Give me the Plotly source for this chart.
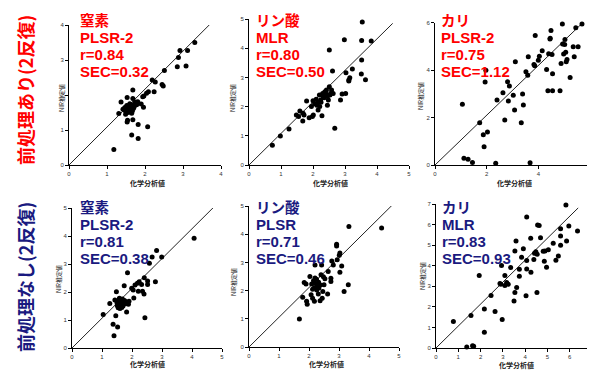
import plotly.graph_objects as go

# page body has an 8px margin: the figure is drawn 8px right/down of the window origin
OFF = 8
W, H = 595 - OFF, 376 - OFF

# ---------------- data ----------------
# 前処理あり - 窒素
n1_x = [1.18, 1.65, 1.82, 2.07, 1.82, 1.53, 1.54, 1.68, 1.31, 1.49, 1.65, 1.96, 1.47, 1.42,
        1.37, 1.53, 1.68, 1.74, 1.68, 1.81, 1.90, 1.94, 1.97, 2.04, 2.09, 2.24, 2.19, 2.27,
        2.45, 2.48, 2.51, 2.85, 2.88, 2.92, 3.08, 3.12, 3.31,
        1.45, 1.50, 1.55, 1.58, 1.62, 1.60, 1.52, 1.48, 1.57, 1.63, 1.66, 1.70, 1.55, 1.60,
        1.67, 1.72, 1.78, 1.75]
n1_y = [0.44, 0.86, 0.76, 1.09, 1.16, 1.23, 1.28, 1.29, 1.47, 1.45, 1.48, 1.65, 1.64, 1.59,
        1.80, 1.93, 2.14, 1.78, 1.90, 1.81, 1.74, 1.95, 1.97, 2.05, 2.09, 2.09, 2.43, 2.37,
        2.30, 2.26, 2.70, 2.81, 3.07, 3.27, 2.83, 3.27, 3.50,
        1.60, 1.62, 1.65, 1.70, 1.58, 1.75, 1.70, 1.55, 1.62, 1.67, 1.72, 1.62, 1.50, 1.52,
        1.55, 1.68, 1.72, 1.80]
n1_line = ([0, 3.8], [0, 4.12])

# 前処理あり - リン酸
p1_x = [0.73, 0.98, 1.25, 1.55, 1.48, 1.59, 1.69, 1.72, 1.68, 1.80, 1.88, 1.98, 2.01, 1.95,
        2.28, 2.16, 2.21, 2.24, 2.32, 2.37, 2.42, 2.48, 2.51, 2.53, 2.58, 2.45, 2.63, 2.68,
        2.61, 2.51, 2.86, 2.91, 3.02, 3.03, 2.98, 3.12, 3.15, 3.12, 3.23, 3.51, 3.64, 3.52,
        3.52, 3.54, 3.82,
        2.05, 2.10, 2.15, 2.20, 2.30, 2.35, 2.40, 2.00, 2.12, 2.25, 2.45, 2.55]
p1_y = [0.68, 0.99, 1.23, 1.66, 1.71, 1.85, 1.77, 1.71, 1.51, 2.19, 1.62, 1.66, 1.71, 2.00,
        1.69, 1.88, 2.00, 2.23, 2.34, 2.51, 2.57, 2.23, 2.68, 2.40, 2.57, 2.05, 2.45, 1.26,
        3.22, 3.94, 2.23, 2.43, 2.45, 3.16, 4.29, 2.91, 2.99, 2.88, 3.29, 3.12, 2.92, 3.60,
        4.26, 4.90, 4.25,
        2.10, 2.25, 2.15, 2.40, 2.45, 2.30, 2.45, 2.20, 2.05, 2.15, 2.35, 2.45]
p1_line = ([0, 4.49], [0, 4.85])

# 前処理あり - カリ
k1_x = [1.06, 1.12, 1.28, 1.45, 1.73, 1.87, 2.03, 1.90, 1.94, 1.97, 2.35, 2.40, 2.63, 2.70,
        2.81, 2.84, 2.88, 3.03, 3.08, 3.11, 3.34, 3.39, 3.42, 3.52, 3.59, 3.61, 3.68, 3.83,
        3.88, 3.86, 4.00, 4.04, 4.15, 4.32, 4.37, 4.40, 4.46, 4.49, 4.45, 4.53, 4.55, 4.55,
        4.84, 4.88, 4.93, 4.94, 4.98, 5.03, 5.06, 5.08, 5.11, 5.02, 5.23, 5.35, 5.39, 5.45,
        5.54, 5.69]
k1_y = [2.56, 0.28, 0.24, 0.11, 1.78, 1.28, 1.39, 0.77, 3.50, 4.00, 0.07, 2.74, 3.05, 1.90,
        3.51, 2.70, 3.33, 2.94, 2.32, 4.35, 1.78, 2.99, 2.53, 3.93, 3.78, 4.56, 0.10, 4.24,
        5.46, 4.19, 4.42, 4.59, 4.82, 4.03, 3.13, 4.69, 5.34, 5.67, 5.31, 4.66, 3.85, 3.13,
        3.13, 4.28, 5.94, 5.10, 4.68, 5.29, 4.75, 4.35, 4.45, 5.08, 3.69, 4.99, 4.56, 5.79,
        4.99, 5.94]
k1_line = ([0, 5.72], [0, 6.0])

# 前処理なし - 窒素
n2_x = [1.40, 1.37, 1.52, 1.04, 1.46, 1.26, 1.43, 1.48, 1.51, 1.54, 1.60, 1.74, 1.85, 1.82,
        1.90, 1.88, 1.99, 2.04, 2.06, 2.10, 2.18, 2.21, 2.24, 2.32, 2.35, 2.40, 2.43, 2.41,
        2.52, 2.52, 2.58, 2.67, 2.78, 2.82, 2.99, 4.07,
        1.50, 1.55, 1.60, 1.62, 1.65, 1.68, 1.70, 1.72, 1.75, 1.58, 1.53, 1.78, 1.80, 1.66]
n2_y = [0.44, 0.85, 0.75, 1.20, 1.15, 1.59, 1.71, 2.01, 1.53, 1.44, 1.41, 2.22, 2.69, 1.29,
        1.67, 1.56, 2.13, 2.07, 1.79, 2.25, 2.31, 2.03, 2.37, 2.27, 2.03, 1.93, 1.08, 2.51,
        2.39, 2.27, 3.03, 3.25, 2.37, 3.48, 3.25, 3.92,
        1.62, 1.70, 1.55, 1.68, 1.60, 1.75, 1.50, 1.62, 1.70, 1.78, 1.48, 1.58, 1.65, 1.45]
n2_line = ([0, 4.79], [0, 5.1])

# 前処理なし - リン酸
p2_x = [1.68, 1.79, 1.92, 1.94, 1.84, 1.90, 2.03, 2.09, 2.07, 2.12, 2.20, 2.18, 2.33, 2.31,
        2.37, 2.40, 2.42, 2.44, 2.46, 2.48, 2.50, 2.53, 2.62, 2.64, 2.73, 2.73, 2.76, 2.81,
        2.92, 2.92, 2.94, 3.01, 3.03, 3.03, 3.09, 3.17, 3.31, 3.33, 4.42,
        2.15, 2.22, 2.25, 2.28, 2.18, 2.32, 2.12, 2.38, 2.20, 2.26]
p2_y = [0.99, 1.76, 1.62, 1.52, 2.29, 2.23, 2.50, 2.23, 1.85, 1.73, 2.91, 1.62, 2.09, 1.88,
        1.64, 2.56, 2.91, 1.73, 1.97, 2.49, 2.21, 2.42, 1.88, 2.68, 2.32, 2.44, 3.05, 2.91,
        3.64, 3.58, 3.09, 3.25, 3.33, 2.65, 2.87, 1.97, 2.21, 4.27, 4.22,
        2.35, 2.25, 2.40, 2.15, 2.10, 2.30, 2.05, 2.20, 2.45, 2.02]
p2_line = ([0, 4.81], [0, 5.07])

# 前処理なし - カリ
k2_x = [0.78, 1.38, 1.64, 1.69, 1.57, 1.94, 2.17, 2.17, 2.47, 2.65, 2.87, 2.91, 2.97, 2.94,
        3.09, 3.09, 3.17, 3.24, 3.35, 3.50, 3.54, 3.54, 3.59, 3.62, 3.74, 3.74, 3.84, 3.92,
        4.04, 4.07, 4.07, 4.07, 4.25, 4.26, 4.39, 4.42, 4.48, 4.54, 4.53, 4.56, 4.63, 4.69,
        4.81, 4.86, 4.89, 4.96, 5.04, 5.26, 5.38, 5.49, 5.59, 5.59, 5.59, 5.83, 5.86, 5.96,
        6.35]
k2_y = [1.29, 0.05, 0.11, 0.08, 1.58, 3.52, 1.89, 0.76, 2.55, 1.78, 3.13, 3.10, 1.39, 4.01,
        3.52, 3.04, 3.18, 3.10, 3.91, 2.29, 4.72, 2.70, 5.20, 2.94, 3.49, 3.83, 4.41, 4.83,
        2.54, 3.84, 4.25, 6.37, 5.33, 3.68, 4.30, 4.60, 4.68, 4.56, 2.70, 5.98, 5.95, 5.36,
        4.70, 4.22, 4.72, 3.93, 4.77, 5.09, 4.26, 4.47, 4.99, 5.44, 5.80, 6.95, 5.20, 5.93,
        5.69]
k2_line = ([0, 6.38], [0, 6.81])

row_labels = ["前処理あり(2反復)", "前処理なし(2反復)"]
texts = [
    ["窒素", "PLSR-2", "r=0.84", "SEC=0.32"],
    ["リン酸", "MLR", "r=0.80", "SEC=0.50"],
    ["カリ", "PLSR-2", "r=0.75", "SEC=1.12"],
    ["窒素", "PLSR-2", "r=0.81", "SEC=0.38"],
    ["リン酸", "PLSR", "r=0.71", "SEC=0.46"],
    ["カリ", "MLR", "r=0.83", "SEC=0.93"],
]
x_title = "化学分析値"
y_title = "NIR推定値"

# ---------------- layout geometry (window pixels) ----------------
RED = "#ff0000"
NAVY = "#1a1a80"
CJK = "Noto Sans CJK JP"
LAT = "Liberation Sans"

def px(x):
    return (x - OFF) / W

def py(y):
    return 1 - (y - OFF) / H

TOP_TY = [8, 37.5, 54.5, 71.5]
BOT_TY = [195, 224.5, 241.5, 258.5]

panels = [
    dict(x=n1_x, y=n1_y, line=n1_line, rng=4, dt=1, box=(69, 221, 25, 165), col=RED,
         tx=79, ty=TOP_TY, yt=(62, 98), xt=(147, 183)),
    dict(x=p1_x, y=p1_y, line=p1_line, rng=5, dt=1, box=(249, 409, 19, 165), col=RED,
         tx=255, ty=TOP_TY, yt=(233, 98), xt=(330, 183)),
    dict(x=k1_x, y=k1_y, line=k1_line, rng=6, dt=2, box=(435, 590, 22.7, 165), col=RED,
         tx=440, ty=TOP_TY, yt=(421, 96), xt=(514, 183)),
    dict(x=n2_x, y=n2_y, line=n2_line, rng=5, dt=1, box=(72, 222, 208, 348), col=NAVY,
         tx=79, ty=BOT_TY, yt=(58, 279), xt=(147, 364)),
    dict(x=p2_x, y=p2_y, line=p2_line, rng=5, dt=1, box=(249, 399, 206, 347), col=NAVY,
         tx=255, ty=BOT_TY, yt=(233, 282), xt=(326, 364)),
    dict(x=k2_x, y=k2_y, line=k2_line, rng=7, dt=1, box=(436, 592, 204, 348), col=NAVY,
         tx=441, ty=BOT_TY, yt=(422, 276), xt=(516, 365)),
]

fig = go.Figure()
annotations = []
layout = dict(
    width=W, height=H,
    margin=dict(l=0, r=0, t=0, b=0),
    paper_bgcolor="white", plot_bgcolor="white",
    showlegend=False,
)

for i, p in enumerate(panels):
    k = "" if i == 0 else str(i + 1)
    xa, ya = "x" + k, "y" + k
    x0, x1, y0, y1 = p["box"]
    ax_common = dict(
        range=[0, p["rng"]], dtick=p["dt"], tick0=0,
        showline=True, linecolor="black", linewidth=1,
        ticks="outside", ticklen=3, tickcolor="black", tickwidth=1,
        showgrid=False, zeroline=False, automargin=False,
        tickfont=dict(family=LAT, size=6, color="#333333"),
        fixedrange=True,
    )
    layout["xaxis" + k] = dict(ax_common, domain=[px(x0), px(x1)], anchor=ya)
    layout["yaxis" + k] = dict(ax_common, domain=[py(y1), py(y0)], anchor=xa)

    fig.add_trace(go.Scatter(
        x=list(p["line"][0]), y=list(p["line"][1]), mode="lines",
        line=dict(color="#222222", width=1), xaxis=xa, yaxis=ya, hoverinfo="skip"))
    fig.add_trace(go.Scatter(
        x=p["x"], y=p["y"], mode="markers",
        marker=dict(color="black", size=5), xaxis=xa, yaxis=ya, cliponaxis=False))

    for j, t in enumerate(texts[i]):
        first = j == 0
        annotations.append(dict(
            x=px(p["tx"]), y=py(p["ty"][j]), xref="paper", yref="paper",
            text="<b>" + t + "</b>", showarrow=False, xanchor="left",
            yanchor="top" if first else "middle", borderpad=0,
            font=dict(family=CJK if first else LAT, size=14.5 if first else 15,
                      color=p["col"])))
    annotations.append(dict(
        x=px(p["yt"][0]), y=py(p["yt"][1]), xref="paper", yref="paper",
        text=y_title, showarrow=False, textangle=-90, xanchor="center", yanchor="middle",
        font=dict(family=CJK, size=6, color="#222222")))
    annotations.append(dict(
        x=px(p["xt"][0]), y=py(p["xt"][1]), xref="paper", yref="paper",
        text="<b>" + x_title + "</b>", showarrow=False, xanchor="center", yanchor="middle",
        font=dict(family=CJK, size=7, color="#222222")))

annotations.append(dict(
    x=px(25), y=py(90), xref="paper", yref="paper", text="<b>" + row_labels[0] + "</b>",
    showarrow=False, textangle=-90, xanchor="center", yanchor="middle",
    font=dict(family=CJK, size=18, color=RED)))
annotations.append(dict(
    x=px(25), y=py(277), xref="paper", yref="paper", text="<b>" + row_labels[1] + "</b>",
    showarrow=False, textangle=-90, xanchor="center", yanchor="middle",
    font=dict(family=CJK, size=18, color=NAVY)))

layout["annotations"] = annotations
fig.update_layout(**layout)
fig.write_html("out.html")
